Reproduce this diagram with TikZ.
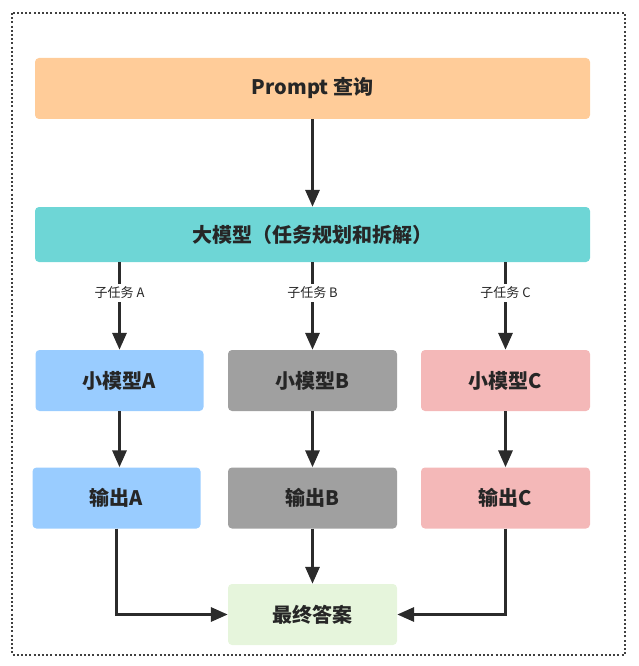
\documentclass[tikz,border=0pt]{standalone}
\usepackage{fontspec}
\setmainfont{Noto Sans CJK SC}
\usetikzlibrary{arrows.meta}
\definecolor{cprompt}{HTML}{FFCC99}
\definecolor{cbig}{HTML}{6ED6D6}
\definecolor{cblue}{HTML}{99CCFF}
\definecolor{cgray}{HTML}{A0A0A0}
\definecolor{cpink}{HTML}{F4B8B8}
\definecolor{cgreen}{HTML}{E6F5DC}
\definecolor{ctext}{HTML}{262626}
\definecolor{cline}{HTML}{2B2B2B}
\tikzset{
  box/.style={rectangle, rounded corners=4pt, draw=none, text=ctext,
    font=\fontsize{20pt}{23pt}\selectfont\bfseries, inner sep=0pt},
  conn/.style={draw=cline, line width=3.2pt, -{Triangle[length=17pt,width=14pt]}},
  sublabel/.style={fill=white, text=ctext, font=\fontsize{13pt}{15pt}\selectfont, inner sep=3pt},
  frame/.style={draw=black!75, line width=1.2pt, dash pattern=on 2pt off 2.2pt}
}
\begin{document}
\begin{tikzpicture}[x=1pt,y=-1pt]
\useasboundingbox (0,0) rectangle (638,666);
\draw[frame] (12,13) rectangle (625,655);

\node[box, fill=cprompt, minimum width=555pt, minimum height=61pt] (prompt) at (312.5,88.5) {Prompt 查询};
\node[box, fill=cbig, minimum width=555pt, minimum height=55pt] (big) at (312.5,234.5) {大模型（任务规划和拆解）};

\node[box, fill=cblue, minimum width=168pt, minimum height=61pt] (mA) at (119.5,380.5) {小模型A};
\node[box, fill=cgray, minimum width=169pt, minimum height=61pt] (mB) at (312.5,380.5) {小模型B};
\node[box, fill=cpink, minimum width=169pt, minimum height=61pt] (mC) at (505.5,380.5) {小模型C};

\node[box, fill=cblue, minimum width=168pt, minimum height=61pt] (oA) at (116.5,498) {输出A};
\node[box, fill=cgray, minimum width=169pt, minimum height=61pt] (oB) at (312.5,498) {输出B};
\node[box, fill=cpink, minimum width=169pt, minimum height=61pt] (oC) at (505.5,498) {输出C};

\node[box, fill=cgreen, minimum width=169pt, minimum height=61pt] (final) at (312.5,614.5) {最终答案};

\draw[conn] (prompt.south) -- (big.north);

\draw[conn] (mA.north |- big.south) -- node[sublabel, pos=0.35] (lA) {子任务 A} (mA.north);
\draw[conn] (mB.north |- big.south) -- node[sublabel, pos=0.35] (lB) {子任务 B} (mB.north);
\draw[conn] (mC.north |- big.south) -- node[sublabel, pos=0.35] (lC) {子任务 C} (mC.north);

\draw[conn] (mA.south) -- (mA.south |- oA.north);
\draw[conn] (mB.south) -- (oB.north);
\draw[conn] (mC.south) -- (oC.north);

\draw[conn] (oA.south) |- (final.west);
\draw[conn] (oB.south) -- (final.north);
\draw[conn] (oC.south) |- (final.east);
\end{tikzpicture}
\end{document}
